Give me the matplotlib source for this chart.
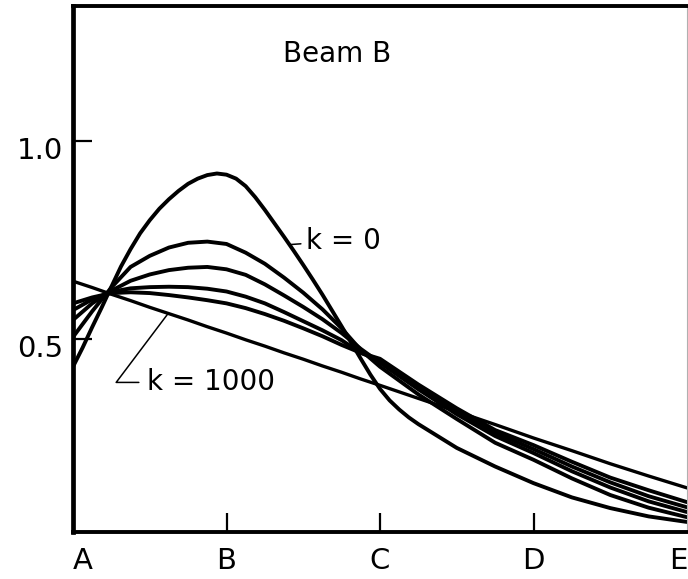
import numpy as np
import matplotlib
matplotlib.use('Agg')
import matplotlib.pyplot as plt
from matplotlib.transforms import ScaledTranslation

# positions along the beam, A..E -> 0..4
x = [0, 0.125, 0.25, 0.375, 0.5, 0.625, 0.75, 0.875, 1.0, 1.125, 1.25, 1.375,
     1.5, 1.625, 1.75, 1.875, 2.0, 2.25, 2.5, 2.75, 3.0, 3.25, 3.5, 3.75, 4.0]

# k = 0 has a sharp peak, so it gets a finer grid
x_k0 = [0, 0.0625, 0.125, 0.1875, 0.25, 0.3125, 0.375, 0.4375, 0.5, 0.5625, 0.625, 0.6875,
        0.75, 0.8125, 0.875, 0.9375, 1.0, 1.0625, 1.125, 1.1875, 1.25, 1.3125, 1.375, 1.4375,
        1.5, 1.5625, 1.625, 1.6875, 1.75, 1.8125, 1.875, 1.9375, 2.0, 2.0625, 2.125, 2.1875,
        2.25, 2.5, 2.75, 3.0, 3.25, 3.5, 3.75, 4.0]
y_k0 = [0.43, 0.478, 0.53, 0.58, 0.632, 0.683, 0.727, 0.767, 0.80, 0.829, 0.853, 0.874,
        0.892, 0.905, 0.914, 0.918, 0.915, 0.905, 0.886, 0.858, 0.826, 0.792, 0.758, 0.723,
        0.687, 0.65, 0.612, 0.572, 0.532, 0.491, 0.45, 0.41, 0.374, 0.345, 0.322, 0.302,
        0.285, 0.225, 0.178, 0.136, 0.10, 0.073, 0.052, 0.038]

# intermediate k values
y_m1 = [0.505, 0.57, 0.63, 0.682, 0.71, 0.731, 0.743, 0.746, 0.74, 0.718, 0.69, 0.655,
        0.617, 0.575, 0.527, 0.472, 0.43, 0.36, 0.298, 0.238, 0.195, 0.148, 0.106, 0.074, 0.05]
y_m2 = [0.548, 0.59, 0.622, 0.647, 0.663, 0.674, 0.68, 0.682, 0.676, 0.662, 0.638, 0.61,
        0.581, 0.55, 0.515, 0.475, 0.44, 0.373, 0.31, 0.255, 0.212, 0.166, 0.125, 0.09, 0.063]
y_m3 = [0.573, 0.60, 0.619, 0.628, 0.631, 0.632, 0.631, 0.627, 0.62, 0.607, 0.59, 0.568,
        0.545, 0.522, 0.497, 0.465, 0.445, 0.38, 0.318, 0.263, 0.222, 0.178, 0.138, 0.103, 0.075]
y_m4 = [0.59, 0.605, 0.616, 0.618, 0.616, 0.611, 0.605, 0.598, 0.59, 0.578, 0.563, 0.546,
        0.527, 0.507, 0.485, 0.465, 0.45, 0.385, 0.325, 0.27, 0.232, 0.19, 0.15, 0.118, 0.088]
# k = 1000 (almost straight)
y_k1000 = [0.646, 0.630, 0.613, 0.597, 0.580, 0.564, 0.548, 0.531, 0.515, 0.498, 0.482, 0.465,
           0.449, 0.432, 0.416, 0.399, 0.383, 0.350, 0.317, 0.284, 0.250, 0.218, 0.185, 0.154, 0.124]

x_ticks = [0, 1, 2, 3, 4]
x_labels = ['A', 'B', 'C', 'D', 'E']
y_ticks = [0.5, 1.0]
y_labels = ['0.5', '1.0']

plt.rcParams['font.family'] = ['Liberation Sans Narrow', 'DejaVu Sans']

fig = plt.figure(figsize=(6.88, 5.79), dpi=100)
ax = fig.add_axes([73 / 688, 47 / 579, 614 / 688, 526 / 579])

line_kw = dict(color='black', lw=2.8, solid_capstyle='round', solid_joinstyle='round')
ax.plot(x_k0, y_k0, **line_kw)
for y in [y_m1, y_m2, y_m3, y_m4]:
    ax.plot(x, y, **line_kw)
ax.plot(x, y_k1000, **dict(line_kw, lw=2.4))

ax.set_xlim(0, 4)
ax.set_ylim(0.0126, 1.341)

ax.set_xticks(x_ticks)
ax.set_xticklabels(x_labels)
ax.set_yticks(y_ticks)
ax.set_yticklabels(y_labels)
ax.tick_params(direction='in', length=14, width=1.6, labelsize=21, colors='black')
ax.tick_params(axis='y', pad=7)
ax.tick_params(axis='x', pad=11)
# no tick marks at the ends, they sit on the spines
ax.xaxis.get_major_ticks()[0].tick1line.set_visible(False)
ax.xaxis.get_major_ticks()[-1].tick1line.set_visible(False)
xl = ax.get_xticklabels()
xl[0].set_ha('left')
xl[-1].set_ha('right')
drop = ScaledTranslation(0, -7 / 100, fig.dpi_scale_trans)
for lbl in ax.get_yticklabels():
    lbl.set_transform(lbl.get_transform() + drop)

ax.spines['left'].set_linewidth(3.4)
ax.spines['bottom'].set_linewidth(2.8)
ax.spines['top'].set_linewidth(2.8)
ax.spines['right'].set_linewidth(0.8)
ax.spines['right'].set_color('#b0b0b0')

ax.text(1.72, 1.22, 'Beam B', ha='center', va='center', fontsize=20)

# k = 0 label with a short dash touching the curve
xa = 1.41
ax.annotate('k = 0', xy=(xa, np.interp(xa, x_k0, y_k0)), xytext=(17, 4),
            textcoords='offset pixels', ha='left', va='center', fontsize=20,
            arrowprops=dict(arrowstyle='-', lw=1.1, color='black',
                            shrinkA=2, shrinkB=0, relpos=(0, 0.4)))

# k = 1000 label with a bent leader
xb = 0.62
ax.annotate('k = 1000', xy=(xb, np.interp(xb, x, y_k1000)), xytext=(-21, -69),
            textcoords='offset pixels', ha='left', va='center', fontsize=20,
            arrowprops=dict(arrowstyle='-', lw=1.1, color='black',
                            shrinkA=4, shrinkB=0, relpos=(0, 0.5),
                            connectionstyle='angle,angleA=0,angleB=53,rad=0'))

fig.savefig('out.png', dpi=100)
